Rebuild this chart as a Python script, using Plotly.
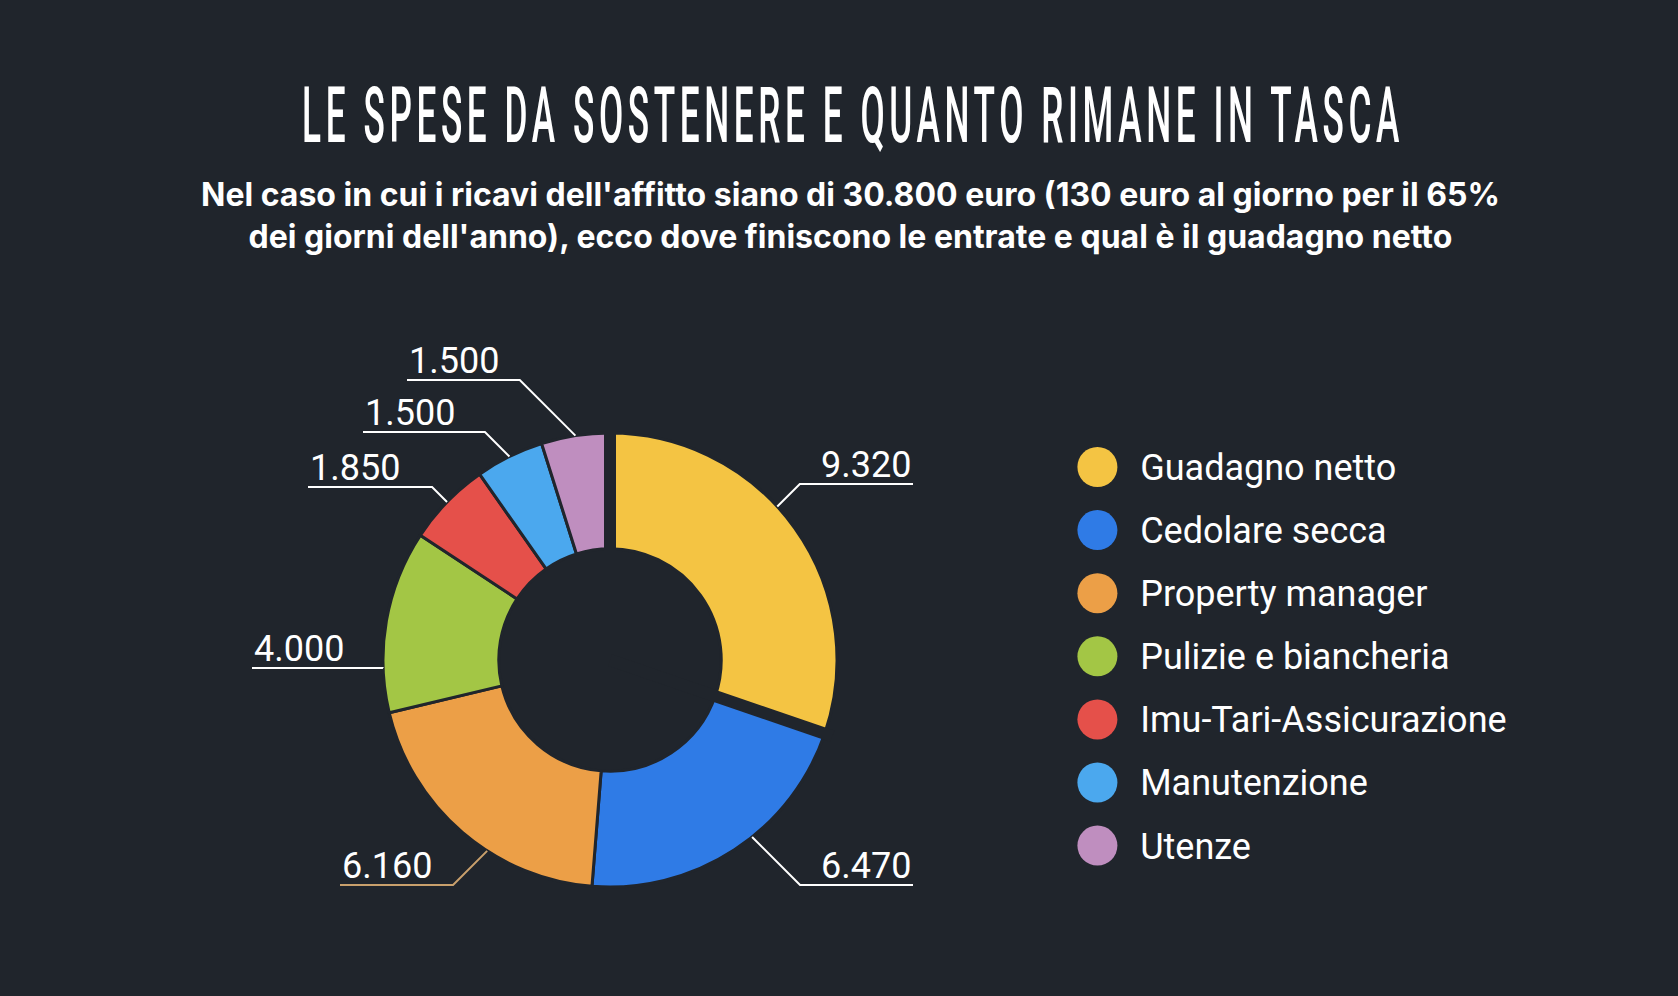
import math
import plotly.graph_objects as go

# --- data ---
categories = ["Guadagno netto", "Cedolare secca", "Property manager",
              "Pulizie e biancheria", "Imu-Tari-Assicurazione",
              "Manutenzione", "Utenze"]
values = [9320, 6470, 6160, 4000, 1850, 1500, 1500]
value_labels = ["9.320", "6.470", "6.160", "4.000", "1.850", "1.500", "1.500"]

colors = ["#F4C443", "#2F7BE6", "#EC9F47", "#A3C645", "#E5504A",
          "#4BA8EE", "#BF8EBF"]
BG = "#20252C"

W, H = 1678, 996
CX, CY, R = 610, 660, 227          # donut centre / radius in px
TITLE_W = 1102                     # target width of the condensed title
LEG_Y0, LEG_DY = 467, 63.1         # legend first row / row step in px

# leader-line layout (px): angle nudge, underline y, outer end x
nudge = [-7, -5.5, -7.8, -12, 0, 0, 0]
line_y = [484, 885, 885, 668, 487, 432, 380]
end_x = [913, 913, 340, 252, 308, 363, 407]
line_col = ["white", "white", "#C9A06C", "white", "white", "white", "white"]


def px(x):
    return x / W


def py(y):
    return 1 - y / H


total = sum(values)
cum = [sum(values[:i]) / total for i in range(len(values) + 1)]

fig = go.Figure()
fig.add_trace(go.Pie(
    labels=categories, values=values, sort=False, direction="clockwise",
    rotation=0, hole=0.49, textinfo="none", hoverinfo="label+value",
    marker=dict(colors=colors, line=dict(color=BG, width=3)),
    domain=dict(x=[px(CX - R), px(CX + R)], y=[py(CY + R), py(CY - R)]),
    showlegend=False,
))

shapes = []
# wider gaps around the first slice
for f in (cum[0], cum[1]):
    a = 2 * math.pi * f
    shapes.append(dict(
        type="line", xref="paper", yref="paper", layer="above",
        x0=px(CX), y0=py(CY),
        x1=px(CX + (R + 8) * math.sin(a)), y1=py(CY - (R + 8) * math.cos(a)),
        line=dict(color=BG, width=12)))

annotations = []
for i, lab in enumerate(value_labels):
    mid = (cum[i] + cum[i + 1]) / 2 * 360 + nudge[i]
    a = math.radians(mid)
    sx, sy = CX + R * math.sin(a), CY - R * math.cos(a)
    side = 1 if math.sin(a) > 0 else -1
    ex = sx + side * abs(line_y[i] - sy)
    path = (f"M {px(sx)},{py(sy)} L {px(ex)},{py(line_y[i])} "
            f"L {px(end_x[i])},{py(line_y[i])}")
    shapes.append(dict(type="path", path=path, xref="paper", yref="paper",
                       layer="above", line=dict(color=line_col[i], width=2)))
    annotations.append(dict(
        text=lab, xref="paper", yref="paper", showarrow=False,
        x=px(end_x[i]), y=py(line_y[i] - 19),
        xanchor="right" if side > 0 else "left", yanchor="middle",
        font=dict(family="Roboto", size=36, color="white")))

# legend drawn as a scatter column
fig.add_trace(go.Scatter(
    x=[0.654] * len(categories), y=list(range(len(categories))),
    mode="markers", marker=dict(size=40, color=colors, line=dict(width=0)),
    cliponaxis=False, hoverinfo="skip", showlegend=False))
fig.add_trace(go.Scatter(
    x=[0.6795] * len(categories), y=list(range(len(categories))),
    mode="text", text=categories, textposition="middle right",
    textfont=dict(family="Roboto", size=36, color="white"),
    cliponaxis=False, hoverinfo="skip", showlegend=False, yaxis="y2"))

annotations.append(dict(
    text="Nel caso in cui i ricavi dell'affitto siano di 30.800 euro (130 euro al giorno per il 65%"
         "<br>dei giorni dell'anno), ecco dove finiscono le entrate e qual è il guadagno netto",
    xref="paper", yref="paper", x=px(850), y=py(215), xanchor="center",
    yanchor="middle", showarrow=False, align="center",
    font=dict(family="Inter", size=32, color="white", weight="bold")))

leg_dom = [py(LEG_Y0 + 6.5 * LEG_DY), py(LEG_Y0 - 0.5 * LEG_DY)]
leg_dom_txt = [py(LEG_Y0 + 4 + 6.5 * LEG_DY), py(LEG_Y0 + 4 - 0.5 * LEG_DY)]

fig.update_layout(
    width=W, height=H, paper_bgcolor=BG, plot_bgcolor="rgba(0,0,0,0)",
    margin=dict(l=0, r=0, t=0, b=0),
    title=dict(text="LE SPESE DA SOSTENERE E QUANTO RIMANE IN TASCA",
               x=px(853), y=py(115), xanchor="center", yanchor="middle",
               font=dict(family="Roboto", size=77, color="white", weight=500)),
    xaxis=dict(visible=False, range=[0, 1], domain=[0, 1], fixedrange=True),
    yaxis=dict(visible=False, range=[6.5, -0.5], fixedrange=True, domain=leg_dom),
    yaxis2=dict(visible=False, range=[6.5, -0.5], fixedrange=True,
                domain=leg_dom_txt, anchor="x"),
    shapes=shapes, annotations=annotations,
)

# page without margin; title squeezed horizontally to a condensed look
post = """
document.body.style.margin = '0';
document.body.style.background = '%s';
var gd = document.getElementById('{plot_id}');
var t = gd.querySelector('.gtitle');
if (t) {
  t.style.letterSpacing = '10px';
  var b = t.getBBox();
  var cx = b.x + b.width / 2;
  var s = %d / b.width;
  t.setAttribute('transform', 'translate(' + cx + ',0) scale(' + s + ',1) translate(' + (-cx) + ',0)');
}
""" % (BG, TITLE_W)

fig.write_html("out.html", post_script=post,
               config={"displayModeBar": False})
